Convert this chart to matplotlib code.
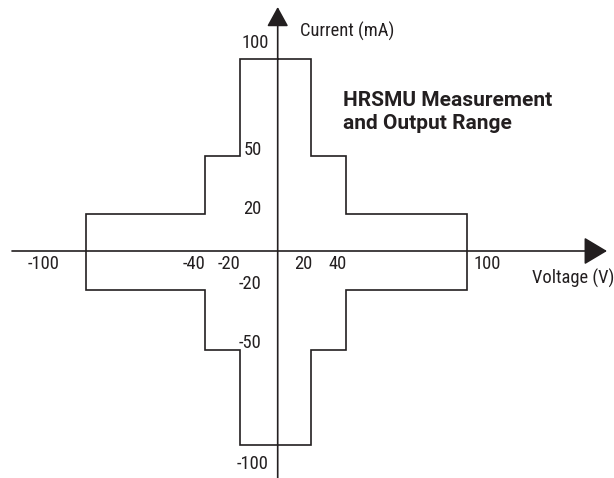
import matplotlib
matplotlib.use('Agg')
import numpy as np
import matplotlib.pyplot as plt

plt.rcParams['font.family'] = ['Roboto Condensed', 'DejaVu Sans']

# Output range corners (first quadrant), mirrored to the other quadrants
voltage_steps = [20, 40, 100]      # V
current_limits = [100, 50, 20]     # mA

x_tick_values = [-100, -40, -20, 20, 40, 100]
y_tick_values = [100, 50, 20, -20, -50, -100]

title_text = 'HRSMU Measurement\nand Output Range'
x_label = 'Voltage (V)'
y_label = 'Current (mA)'

ink = '#231f20'

# Build the stepped outline from the data
q1 = [(0, current_limits[0])]
for i, v in enumerate(voltage_steps):
    q1.append((v, current_limits[i]))
    nxt = current_limits[i + 1] if i + 1 < len(current_limits) else 0
    q1.append((v, nxt))
q1 = np.array(q1, dtype=float)
q4 = q1[::-1] * [1, -1]
right = np.vstack([q1, q4])
left = right[::-1] * [-1, 1]
outline = np.vstack([right, left, right[:1]])


def piecewise(data_pts, px_pts):
    # schematic (not to scale) axis: piecewise linear map value -> pixels
    d = np.concatenate([[-1e4], data_pts, [1e4]])
    p = np.concatenate([[px_pts[0] - (1e4 + data_pts[0]) * 1.9], px_pts,
                        [px_pts[-1] + (1e4 - data_pts[-1]) * 1.9]])
    fwd = lambda v: np.interp(v, d, p)
    inv = lambda v: np.interp(v, p, d)
    return fwd, inv


W, H, DPI = 614, 478, 100
ox, oy = 277.7, 251
fx, ix = piecewise([-100, -40, -20, 0, 20, 40, 100],
                   [-192, -72.4, -37.4, 0, 33.5, 68, 189.6])
fy, iy = piecewise([-100, -50, -20, 0, 20, 50, 100],
                   [-194, -99, -39, 0, 37, 95, 191.7])

fig = plt.figure(figsize=(W / DPI, H / DPI), dpi=DPI)
ax = fig.add_axes([0, 0, 1, 1])
ax.set_xscale('function', functions=(fx, ix))
ax.set_yscale('function', functions=(fy, iy))
ax.set_xlim(ix(-ox), ix(W - ox))
ax.set_ylim(iy(-(H - oy)), iy(oy))
ax.axis('off')

ax.plot(outline[:, 0], outline[:, 1], color=ink, lw=1.2, solid_joinstyle='miter')

# axes with arrowheads
x_start, x_tip = ix(12 - ox), ix(607 - ox)
y_bottom, y_tip = iy(-(H - oy)), iy(oy - 7)
ax.annotate('', xy=(x_tip, 0), xytext=(x_start, 0),
            arrowprops=dict(arrowstyle='-|>,head_length=0.72,head_width=0.43',
                            mutation_scale=20, lw=1.2, color=ink,
                            shrinkA=0, shrinkB=0))
ax.annotate('', xy=(0, y_tip), xytext=(0, y_bottom),
            arrowprops=dict(arrowstyle='-|>,head_length=0.6,head_width=0.33',
                            mutation_scale=20, lw=1.2, color=ink,
                            shrinkA=0, shrinkB=0))

fs = 13.3
# x tick labels (label centre offset in pixels from the value position)
x_offsets = {-100: -42, -40: -11, -20: -11, 20: -8, 40: -8, 100: 20}
for v in x_tick_values:
    ax.annotate(str(v), xy=(v, 0), xytext=(x_offsets[v], -13),
                textcoords='offset pixels', ha='center', va='center',
                fontsize=fs, color=ink)

# y tick labels (right edge and centre offsets in pixels)
y_offsets = {100: 16, 50: 6, 20: 5, -20: 6, -50: 7, -100: -19}
for v in y_tick_values:
    ax.annotate(str(v), xy=(0, v), xytext=(-9 if abs(v) == 100 else -16, y_offsets[v]),
                textcoords='offset pixels', ha='right', va='center',
                fontsize=fs, color=ink)

ax.annotate(x_label, xy=(x_tip, 0), xytext=(7, -27), textcoords='offset pixels',
            ha='right', va='center', fontsize=fs, color=ink)
ax.annotate(y_label, xy=(0, y_tip), xytext=(22, -24), textcoords='offset pixels',
            ha='left', va='center', fontsize=fs, color=ink)

# va='baseline' anchors the last line of the block
ax.annotate(title_text, xy=(0, 0), xytext=(343 - ox, oy - 129),
            textcoords='offset pixels', xycoords='data', ha='left', va='baseline',
            fontsize=15, fontweight='bold', color=ink, linespacing=1.28,
            family=['Roboto', 'DejaVu Sans'])

fig.savefig('out.png', dpi=DPI)
